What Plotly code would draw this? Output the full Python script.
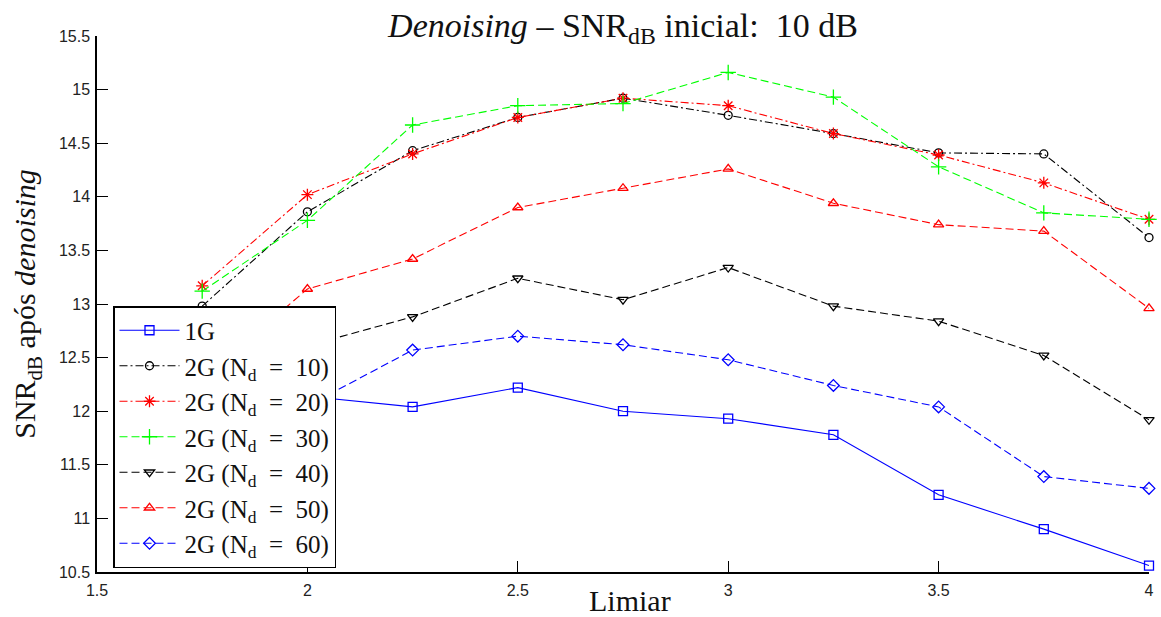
import plotly.graph_objects as go

limiar = [1.75, 2.0, 2.25, 2.5, 2.75, 3.0, 3.25, 3.5, 3.75, 4.0]
snr_1g = [12.00, 12.14, 12.04, 12.22, 12.00, 11.93, 11.78, 11.22, 10.90, 10.56]
snr_nd10 = [12.98, 13.86, 14.43, 14.74, 14.92, 14.76, 14.59, 14.41, 14.40, 13.62]
snr_nd20 = [13.17, 14.02, 14.40, 14.74, 14.92, 14.85, 14.59, 14.39, 14.13, 13.79]
snr_nd30 = [13.12, 13.78, 14.67, 14.85, 14.87, 15.16, 14.93, 14.28, 13.85, 13.79]
snr_nd40 = [12.30, 12.61, 12.88, 13.24, 13.04, 13.34, 12.98, 12.84, 12.52, 11.92]
snr_nd50 = [12.30, 13.14, 13.42, 13.90, 14.08, 14.26, 13.94, 13.74, 13.68, 12.96]
snr_nd60 = [11.50, 12.05, 12.57, 12.70, 12.62, 12.48, 12.24, 12.04, 11.39, 11.28]

series_names = ["1G", "2G (N<sub>d</sub>  =  10)", "2G (N<sub>d</sub>  =  20)",
                "2G (N<sub>d</sub>  =  30)", "2G (N<sub>d</sub>  =  40)",
                "2G (N<sub>d</sub>  =  50)", "2G (N<sub>d</sub>  =  60)"]
series_vals = [snr_1g, snr_nd10, snr_nd20, snr_nd30, snr_nd40, snr_nd50, snr_nd60]
x_ticks = [1.5, 2, 2.5, 3, 3.5, 4]
x_ticklabels = ["1.5", "2", "2.5", "3", "3.5", "4"]
y_ticks = [10.5, 11, 11.5, 12, 12.5, 13, 13.5, 14, 14.5, 15, 15.5]
y_ticklabels = ["10.5", "11", "11.5", "12", "12.5", "13", "13.5", "14", "14.5", "15", "15.5"]

colors = ["#0000ff", "#000000", "#ff0000", "#00ff00", "#000000", "#ff0000", "#0000ff"]
symbols = ["square-open", "circle-open", "asterisk-open", "cross-thin-open",
           "triangle-down-open", "triangle-up-open", "diamond-open"]
dashes = ["solid", "8px,3px,2px,3px", "8px,3px,2px,3px", "8px,4px",
          "8px,4px", "8px,4px", "8px,4px"]
sizes = [9, 8, 10, 11, 9, 9, 9]

fig = go.Figure()
for name, vals, c, s, d, sz in zip(series_names, series_vals, colors, symbols, dashes, sizes):
    fig.add_trace(go.Scatter(
        x=limiar, y=vals, name=name, mode="lines+markers",
        line=dict(color=c, width=1.1, dash=d),
        marker=dict(symbol=s, size=sz, color=c, line=dict(color=c, width=1.3)),
        cliponaxis=False,
    ))

serif = "Liberation Serif, Times New Roman, serif"
sans = "Liberation Sans, Arial, sans-serif"

W, H = 1161, 617
L, R, T, B = 97, 12, 36, 45
plot_w = W - L - R
plot_h = H - T - B

fig.update_layout(
    width=W, height=H,
    margin=dict(l=L, r=R, t=T, b=B, autoexpand=False),
    paper_bgcolor="white", plot_bgcolor="white",
    title=dict(text="<i>Denoising</i> – SNR<sub>dB</sub> inicial:  10 dB",
               x=(L + (W - R)) / 2 / W, xanchor="center", y=1 - 25 / H, yanchor="middle",
               font=dict(family=serif, size=34, color="#111")),
    xaxis=dict(range=[1.5, 4], tickvals=x_ticks, ticktext=x_ticklabels,
               ticks="inside", ticklen=11, tickcolor="black", tickwidth=1,
               showline=True, linecolor="black", linewidth=1.5, showgrid=False,
               zeroline=False, tickfont=dict(family=sans, size=16, color="#222"),
               ticklabelstandoff=3, ticklabeloverflow="allow", automargin=False),
    yaxis=dict(range=[10.5, 15.5], tickvals=y_ticks, ticktext=y_ticklabels,
               ticks="inside", ticklen=11, tickcolor="black", tickwidth=1,
               showline=True, linecolor="black", linewidth=1.5, showgrid=False,
               zeroline=False, tickfont=dict(family=sans, size=16, color="#222"),
               ticklabelstandoff=2, ticklabeloverflow="allow", automargin=False,
               title=dict(text="SNR<sub>dB</sub> após <i>denoising</i>",
                          font=dict(family=serif, size=30, color="#111"), standoff=14)),
    legend=dict(x=(113 - L) / plot_w, y=(H - B - 306) / plot_h, xanchor="left", yanchor="top",
                bgcolor="white", bordercolor="black", borderwidth=1.5,
                font=dict(family=serif, size=25, color="#111"),
                itemwidth=60, tracegroupgap=0),
    showlegend=True,
)

fig.add_annotation(text="Limiar", xref="paper", yref="paper",
                   x=(630 - L) / plot_w, y=-(600 - (H - B)) / plot_h,
                   xanchor="center", yanchor="middle", showarrow=False,
                   font=dict(family=serif, size=30, color="#111"))

fig.write_html("out.html", config={"displayModeBar": False},
               post_script="document.body.style.margin='0';"
                           "document.documentElement.style.overflow='hidden';")
